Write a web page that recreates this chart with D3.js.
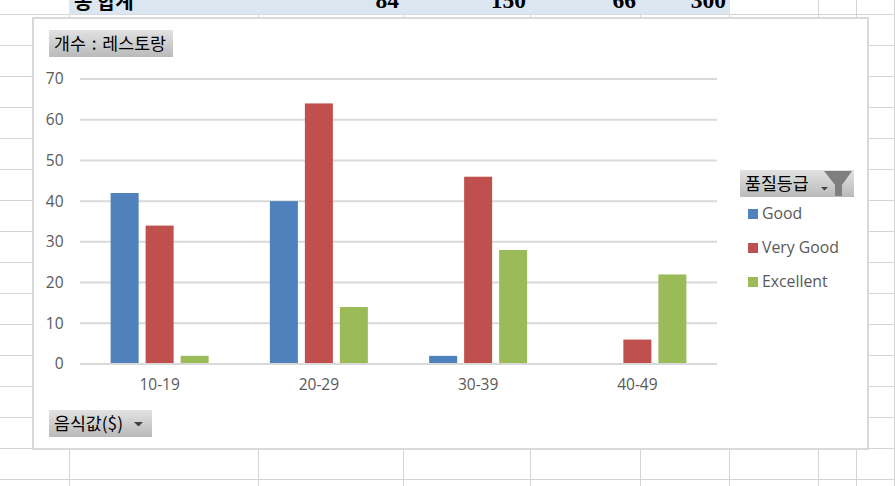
<!DOCTYPE html>
<html><head><meta charset="utf-8">
<script src="https://cdn.jsdelivr.net/npm/d3@7/dist/d3.min.js"></script>
<style>html,body{margin:0;padding:0;background:#fff;overflow:hidden}svg{display:block}</style>
</head><body><svg id="c" width="895" height="486"></svg>
<script>
const categories = ["10-19","20-29","30-39","40-49"];
const seriesNames = ["Good","Very Good","Excellent"];
const good = [42,40,2,0];
const veryGood = [34,64,46,6];
const excellent = [2,14,28,22];
const seriesColors = ["#4f81bd","#c0504d","#9bbb59"];
const yTicks = [0,10,20,30,40,50,60,70];
const headerLabel = "총 합계";
const headerTotals = [84,150,66,300];
const sheetRows = [14,45,76,107,138,169,200,231,262,293,324,355,386,417,448,479];
const sheetCols = [69,258,403,530,640,729,818,856,894];
const headerRight = [399,526,636,726];

const font = "'Open Sans','Noto Sans',sans-serif";
const cjk = "'Noto Sans CJK KR','Noto Sans',sans-serif";
const svg = d3.select("#c");
const defs = svg.append("defs");
const g = defs.append("linearGradient").attr("id","btn").attr("x1",0).attr("y1",0).attr("x2",0).attr("y2",1);
g.append("stop").attr("offset","0%").attr("stop-color","#e2e2e2");
g.append("stop").attr("offset","100%").attr("stop-color","#bababa");

// sheet
svg.selectAll(".r").data(sheetRows).join("line").attr("x1",0).attr("x2",895)
  .attr("y1",d=>d+.5).attr("y2",d=>d+.5).attr("stroke","#d4d4d4");
svg.selectAll(".c").data(sheetCols).join("line").attr("y1",0).attr("y2",486)
  .attr("x1",d=>d+.5).attr("x2",d=>d+.5).attr("stroke","#d4d4d4");
svg.append("rect").attr("x",69).attr("y",0).attr("width",661).attr("height",14.5).attr("fill","#dce6f1");
svg.append("text").attr("x",74).attr("y",9).attr("font-family",cjk).attr("font-weight",700)
  .attr("font-size",20).attr("fill","#000").text(headerLabel);
svg.selectAll(".t").data(headerTotals).join("text")
  .attr("x",(d,i)=>headerRight[i]).attr("y",8).attr("text-anchor","end")
  .attr("font-family","'Liberation Serif',serif").attr("font-weight",700).attr("font-size",23.5)
  .attr("fill","#000").text(d=>d);

// chart frame
svg.append("rect").attr("x",33).attr("y",18).attr("width",835).attr("height",431)
  .attr("fill","#fff").attr("stroke","#d9d9d9").attr("stroke-width",2);

// scales
const x0 = d3.scaleBand().domain(categories).range([80,717]);
const x1 = d3.scaleBand().domain(seriesNames).range([-49,49]).paddingInner(0.2);
const y = d3.scaleLinear().domain([0,70]).range([364,79]);

// grid
svg.append("g").selectAll("line").data(yTicks).join("line")
  .attr("x1",80).attr("x2",717).attr("y1",d=>y(d)).attr("y2",d=>y(d))
  .attr("stroke","#d9d9d9").attr("stroke-width",2);

// bars
const seriesValues = [good,veryGood,excellent];
seriesNames.forEach((s,si)=>{
  svg.append("g").selectAll("rect").data(seriesValues[si]).join("rect")
    .attr("x",(d,i)=>x0(categories[i])+x0.bandwidth()/2+x1(s))
    .attr("width",x1.bandwidth())
    .attr("y",d=>y(d)).attr("height",d=>Math.max(0,y(0)-y(d)-1))
    .attr("fill",seriesColors[si]);
});

// axes
const ax = svg.append("g").attr("transform","translate(0,364)")
  .call(d3.axisBottom(x0).tickSize(0).tickPadding(15));
const ay = svg.append("g").attr("transform","translate(80,0)")
  .call(d3.axisLeft(y).tickValues(yTicks).tickSize(0).tickPadding(16.5));
[ax,ay].forEach(a=>{
  a.select(".domain").remove();
  a.selectAll("text").attr("font-family",font).attr("font-size",15.5).attr("fill","#595959");
});

// buttons
function button(x,yy,w,label,arrowX,arrowW,ws){
  svg.append("rect").attr("x",x).attr("y",yy).attr("width",w).attr("height",27).attr("fill","url(#btn)");
  svg.append("text").attr("x",x+5).attr("y",yy+20).attr("font-family",cjk).attr("font-size",17.3)
    .attr("word-spacing",ws||0).attr("fill","#000").text(label);
  if(arrowX) svg.append("path")
    .attr("d",`M${arrowX-arrowW/2},${yy+(arrowW>7?12:17)}h${arrowW}l-${arrowW/2},${arrowW/2}z`).attr("fill","#404040");
}
button(49,30,124,"개수 : 레스토랑",null,null,2);
button(49,410,103,"음식값($)",138.5,9);
button(740,170,114,"품질등급",824.5,7);
svg.append("path").attr("d","M824,171H852L842,185V196H835V185Z").attr("fill","#7f7f7f");

// legend
const ly = d3.scalePoint().domain(seriesNames).range([214,282]);
seriesNames.forEach((s,i)=>{
  svg.append("rect").attr("x",748).attr("y",ly(s)-5).attr("width",10).attr("height",10).attr("fill",seriesColors[i]);
  svg.append("text").attr("x",762).attr("y",ly(s)+5).attr("font-family",font).attr("font-size",15.8)
    .attr("fill","#595959").text(s);
});
</script></body></html>
